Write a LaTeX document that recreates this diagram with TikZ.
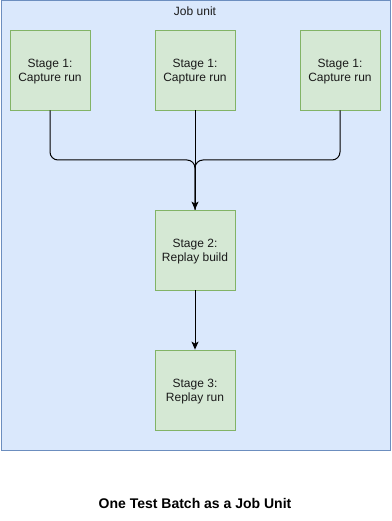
\documentclass[tikz,border=0pt]{standalone}
\usepackage{fontspec}
\setmainfont{Liberation Sans}
\usetikzlibrary{arrows.meta,calc}
\definecolor{cfill}{HTML}{DAE8FC}
\definecolor{cstroke}{HTML}{6C8EBF}
\definecolor{gfill}{HTML}{D5E8D4}
\definecolor{gstroke}{HTML}{82B366}
\definecolor{txt}{HTML}{1A1A1A}
\tikzset{
  stagebox/.style={draw=gstroke,fill=gfill,line width=0.8pt,minimum width=80pt,minimum height=80pt,inner sep=0pt,align=center,font=\fontsize{12}{14}\selectfont,text=txt},
  stagetext/.style={align=center,font=\fontsize{12}{14}\selectfont,text=txt,inner sep=0pt},
  conn/.style={draw=black,line width=1pt,rounded corners=8pt},
  tip/.style={-{Stealth[length=8pt,width=7pt,inset=2pt]}}
}
\begin{document}
\begin{tikzpicture}[x=1pt,y=-1pt]
\useasboundingbox (0,0) rectangle (391,521);
\node[draw=cstroke,fill=cfill,line width=0.8pt,minimum width=389pt,minimum height=449pt,inner sep=0pt,anchor=north west] (job) at (0.5,0.5) {};
\node[font=\fontsize{12}{14}\selectfont,text=txt] (joblabel) at (195,11) {Job unit};
\node[stagebox] (s1a) at (50,70) {};
\node[stagebox] (s1b) at (195,70) {};
\node[stagebox] (s1c) at (340,70) {};
\node[stagebox] (s2) at (195,250) {};
\node[stagebox] (s3) at (195,390) {};
\node[stagetext] (t1a) at (50,72) {Stage 1:\\Capture run};
\node[stagetext] (t1b) at (195,72) {Stage 1:\\Capture run};
\node[stagetext] (t1c) at (340,72) {Stage 1:\\Capture run};
\node[stagetext] (t2) at (195,252) {Stage 2:\\Replay build};
\node[stagetext] (t3) at (195,392) {Stage 3:\\Replay run};
\coordinate (j) at (195,160);
\draw[conn] (s1a.south) -- (s1a.south |- j) -- (j) -- (s2.north);
\draw[conn] (s1c.south) -- (s1c.south |- j) -- (j) -- (s2.north);
\draw[conn,tip] (s1b.south) -- (s2.north);
\draw[conn,tip] (s2.south) -- (s3.north);
\node[font=\bfseries\fontsize{14}{16}\selectfont] (title) at (195,503) {One Test Batch as a Job Unit};
\end{tikzpicture}
\end{document}
